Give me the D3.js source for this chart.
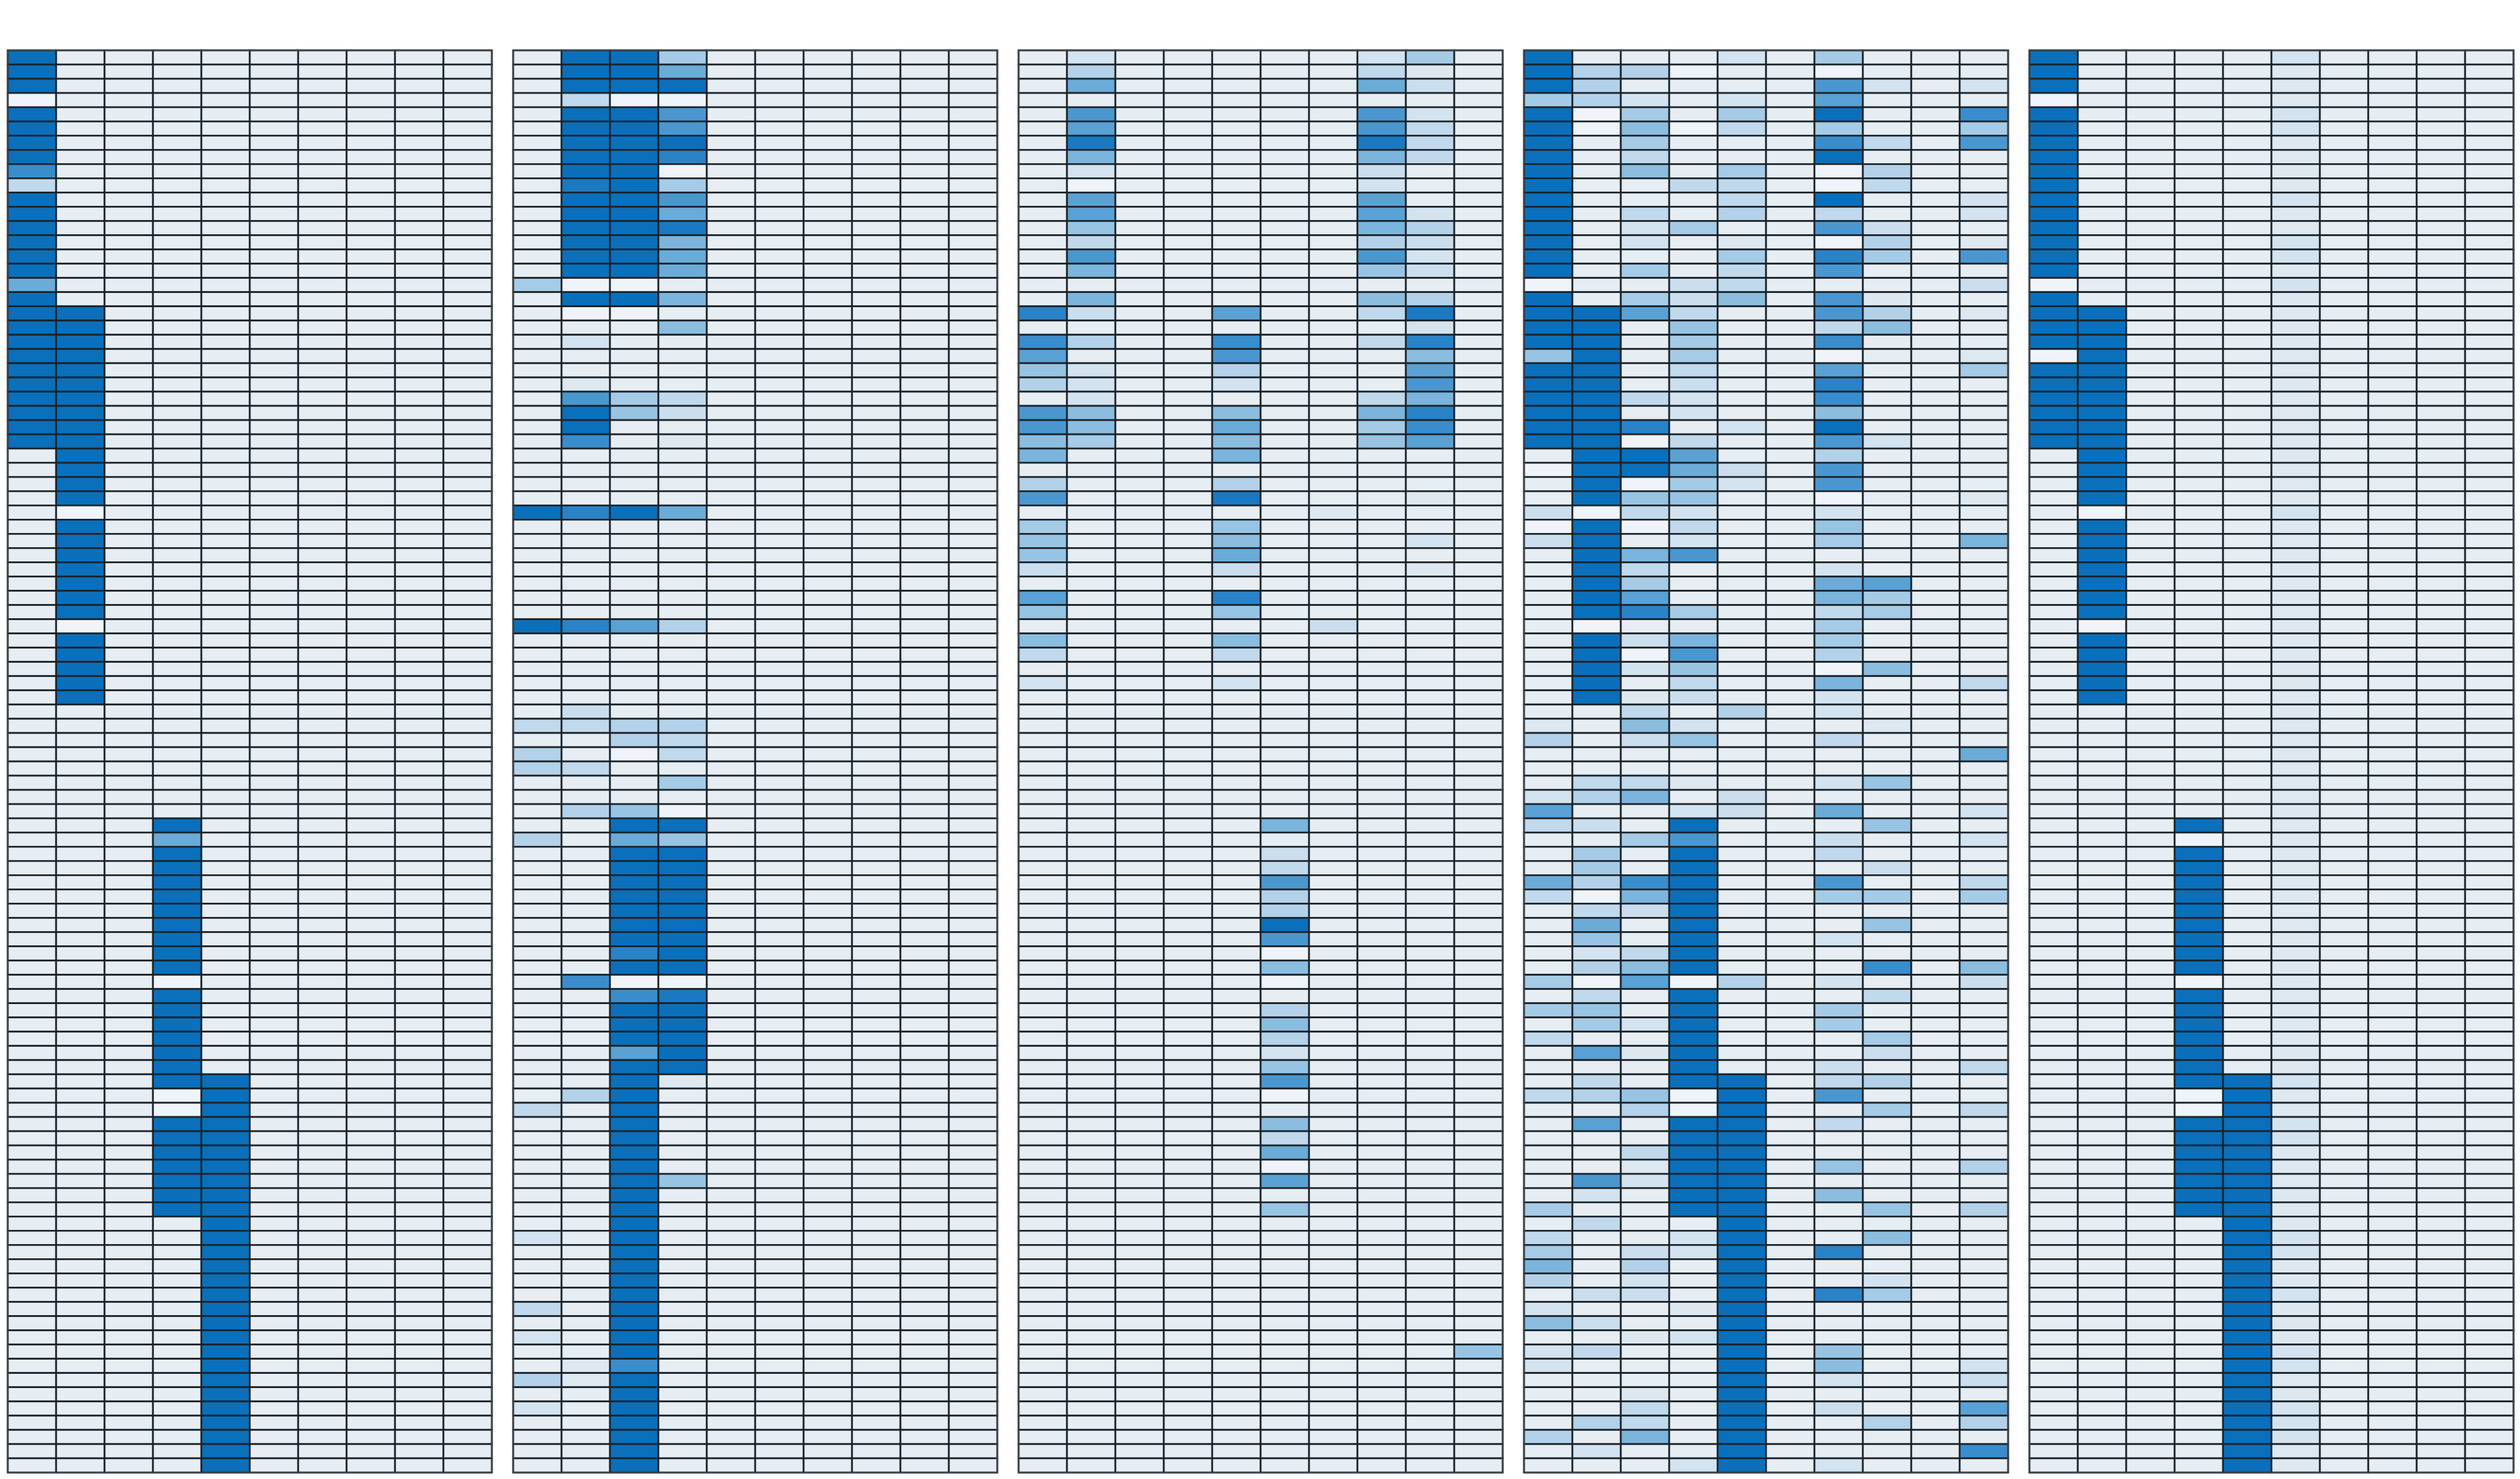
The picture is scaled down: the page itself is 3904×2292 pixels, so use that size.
<!DOCTYPE html>
<html>
<head>
<meta charset="utf-8">
<script src="https://cdn.jsdelivr.net/npm/d3@7"></script>
<style>
  html, body { margin: 0; padding: 0; background: #fff; }
</style>
</head>
<body>
<svg id="chart" width="3904" height="2292"></svg>
<script>
// Each string is one row of a panel, one character per column.
// Digits 0-9 are levels; letters A-I are the half steps 0.5 .. 8.5.
const panel1 = [
  "9111111111","9111111111","9111111111","0111111111","9111111111",
  "9111111111","9111111111","9111111111","H111111111","3111111111",
  "9111111111","9111111111","9111111111","9111111111","9111111111",
  "9111111111","6111111111","9111111111","9911111111","9911111111",
  "9911111111","9911111111","9911111111","9911111111","9911111111",
  "9911111111","9911111111","9911111111","1911111111","1911111111",
  "1911111111","1911111111","1011111111","1911111111","1911111111",
  "1911111111","1911111111","1911111111","1911111111","1911111111",
  "1011111111","1911111111","1911111111","1911111111","1911111111",
  "1911111111","1111111111","1111111111","1111111111","1111111111",
  "1111111111","1111111111","1111111111","1111111111","1119111111",
  "1116111111","1119111111","1119111111","1119111111","1119111111",
  "1119111111","1119111111","1119111111","1119111111","1119111111",
  "1110111111","1119111111","1119111111","1119111111","1119111111",
  "1119111111","1119111111","1119911111","1110911111","1110911111",
  "1119911111","1119911111","1119911111","1119911111","1119911111",
  "1119911111","1119911111","1111911111","1111911111","1111911111",
  "1111911111","1111911111","1111911111","1111911111","1111911111",
  "1111911111","1111911111","1111911111","1111911111","1111911111",
  "1111911111","1111911111","1111911111","1111911111","1111911111"
];

const panel2 = [
  "1994111111","1996111111","1999111111","1300111111","1997111111",
  "1997111111","1999111111","1998111111","1990111111","1I94111111",
  "1997111111","1996111111","199I111111","199F111111","1996111111",
  "1996111111","4001111111","199F111111","1001111111","1115111111",
  "1211111111","1111111111","1111111111","1B11111111","1743111111",
  "19EC111111","1911111111","1H1B111111","1111111111","1111111111",
  "1111111111","1111111111","9896111111","1111111111","1111111111",
  "1111111111","1111111111","1111111111","1111111111","1111111111",
  "98GD111111","1111111111","1111111111","1111111111","1111111111",
  "1111111111","1C11111111","33DD111111","11D3111111","D103111111",
  "D311111111","1114111111","1111111111","1DE0111111","1199111111",
  "D16E111111","1199111111","1199111111","1199111111","1199111111",
  "1199111111","1199111111","1199111111","1189111111","1199111111",
  "1H00111111","11HI111111","1199111111","1199111111","1199111111",
  "11G9111111","1199111111","119B111111","1D91111111","3191111111",
  "1191111111","1191111111","1191111111","1191111111","119E111111",
  "1191111111","1191111111","1191111111","2191111111","1191111111",
  "1191111111","1191111111","1191111111","3191111111","1191111111",
  "2191111111","1191111111","1BH1111111","DB91111111","1191111111",
  "2191111111","1191111111","1191111111","1191111111","1191111111"
];

const panel3 = [
  "1211111241","1D111113B1","16111116C1","1111111111","1711111721",
  "1G11111731","1I11111I31","1F11111F31","1211111C11","1011111211",
  "1G11111G11","1G11111G21","1E11111FD1","1311111DC1","1711111721",
  "1F11111EC1","1111111111","1F111115D1","8C11G113I1","1111111121",
  "HD11H11381","G111711151","E211D111G1","D211211171","12111113F1",
  "7511511F81","75116114H1","5411511EG1","F111F11111","1111111111",
  "D111D11111","7111I111B1","111111B111","4111E11111","E111511121",
  "E111611111","C111C111B1","1111111111","G111811111","E111E11111",
  "111111C111","5111511111","3111311111","1111111111","2111211111",
  "1111111111","1111111111","1111111111","1111111111","1111111111",
  "1111111111","1111111111","1111111111","1111111111","11111F1111",
  "1111111111","11111C1111","1111131111","1111171111","11111D1111",
  "11111D1111","1111191111","1111171111","1111101111","1111151111",
  "1111101111","1111111111","11111D1111","1111151111","11111D1111",
  "1111121111","11111E1111","1111171111","1111101111","1111111111",
  "1111151111","1111131111","1111161111","1111101111","11111G1111",
  "1111111111","11111E1111","1111111111","1111111111","1111111111",
  "1111111111","1111111111","1111111111","1111111111","1111111111",
  "1111111111","111111111E","1111111111","1111111111","1111111111",
  "1111111111","1111111111","1111111111","1111111111","1111111111"
];

const panel4 = [
  "9111214111","9DD0110111","9D11117212","4D2121G111","904141911H",
  "9050314114","914111H317","9131119111","9151410D11","9113310311",
  "9111319112","9131D13112","9124117C11","9121B10D1B","9111418417",
  "9141317111","011C31111C","914C517B11","99G3117D1B","991E113511",
  "991411H111","E91411011B","991311G114","991C118111","993211H111",
  "9912115111","9981219111","9903117211","199G11D111","0996C17111",
  "1904217111","19EE11011B","C032112111","090311E111","C91211411F",
  "19F7111111","1931112111","1941116G11","19G111F411","1984113411",
  "1011114111","19CF114111","190711D111","192E110511","191311F113",
  "19BC112111","1131D12111","B152111B11","D1CE113111","1111111116",
  "1111111111","133B112E11","2DF1C11111","G112C16112","3C19111E11",
  "114711C112","1419113111","1419111C11","6DH9117113","30F9114414",
  "13C9111111","1619111E11","1E19112111","1239111111","1D59111H15",
  "40G0D1211C","1319111311","4E19114111","1429114111","3119111411",
  "1GB9111C11","111911C113","1319913D11","3DE0917111","11D0911413",
  "1G19913111","1119911111","1139911111","11B991E11D","1729911111",
  "1219915111","4119911E1D","1311911111","3112911511","41C2918111",
  "F1D1911111","D121911211","1CC1918411","211B911111","5C11911111",
  "11B2911111","231191E111","2111915112","111191211C","11B1911111",
  "113191C11G","1D31911D1D","D1F1911111","121191111H","1112912111"
];

const panel5 = [
  "9111121111","91111B1111","91111B1111","01111B1111","9111121111",
  "9111121111","91111B1111","91111B1111","91111B1111","91111B1111",
  "9111121111","91111B1111","91111B1111","9111121111","9111121111",
  "91111B1111","0111121111","91111B1111","99111B1111","99111B1111",
  "99111B1111","09111B1111","99111B1111","99111B1111","99111B1111",
  "99111B1111","99111B1111","99111B1111","19111B1111","19111B1111",
  "19111B1111","19111B1111","1011121111","19111B1111","19111B1111",
  "19111B1111","19111B1111","19111B1111","19111B1111","19111B1111",
  "10111B1111","19111B1111","19111B1111","19111B1111","19111B1111",
  "19111B1111","11111B1111","11111B1111","11111B1111","11111B1111",
  "11111B1111","11111B1111","11111B1111","11111B1111","11191B1111",
  "11101B1111","11191B1111","11191B1111","11191B1111","11191B1111",
  "11191B1111","11191B1111","11191B1111","11191B1111","11191B1111",
  "11101B1111","11191B1111","11191B1111","11191B1111","11191B1111",
  "11191B1111","11191B1111","1119921111","11109B1111","11109B1111",
  "1119921111","1119921111","11199B1111","11199B1111","11199B1111",
  "11199B1111","11199B1111","11119B1111","1111921111","1111921111",
  "11119B1111","11119B1111","1111921111","11119B1111","11119B1111",
  "11119B1111","1111921111","1111921111","11119B1111","11119B1111",
  "1111921111","1111921111","1111921111","11119B1111","11119B1111"
];

const panels = [panel1, panel2, panel3, panel4, panel5];
const levelColors = ["#eef4fa", "#e6edf3", "#d3e3ef", "#c0d9ec", "#a5cbe6",
                     "#8bbddf", "#6aabd8", "#4a97d0", "#2a82c7", "#0a70bb"];

function parseLevel(ch) {
    if (ch >= "0" && ch <= "9") return +ch;
    return ch.charCodeAt(0) - 65 + 0.5;
}

const svg = d3.select("#chart");

const panelX = d3.scaleBand()
    .domain(d3.range(panels.length))
    .range([12, 3894])
    .paddingInner(33 / 783);

const colX = d3.scaleBand().domain(d3.range(10)).range([0, panelX.bandwidth()]);
const rowY = d3.scaleBand().domain(d3.range(100)).range([78, 2282]);

const color = d3.scaleLinear()
    .domain(d3.range(levelColors.length))
    .range(levelColors)
    .clamp(true);

panels.forEach((rows, p) => {
    const cells = [];
    rows.forEach((row, r) => {
        row.split("").forEach((ch, c) => cells.push({ r, c, v: parseLevel(ch) }));
    });

    const g = svg.append("g")
        .attr("transform", `translate(${panelX(p)},0)`);

    g.selectAll("rect.cell")
        .data(cells)
        .join("rect")
        .attr("class", "cell")
        .attr("x", d => colX(d.c))
        .attr("y", d => rowY(d.r))
        .attr("width", colX.bandwidth())
        .attr("height", rowY.bandwidth())
        .attr("fill", d => color(d.v))
        .attr("stroke", "#1a2229")
        .attr("stroke-width", 2.6);

    g.append("rect")
        .attr("x", 0)
        .attr("y", rowY.range()[0])
        .attr("width", panelX.bandwidth())
        .attr("height", rowY.range()[1] - rowY.range()[0])
        .attr("fill", "none")
        .attr("stroke", "#3a4148")
        .attr("stroke-width", 2.6);
});
</script>
</body>
</html>
